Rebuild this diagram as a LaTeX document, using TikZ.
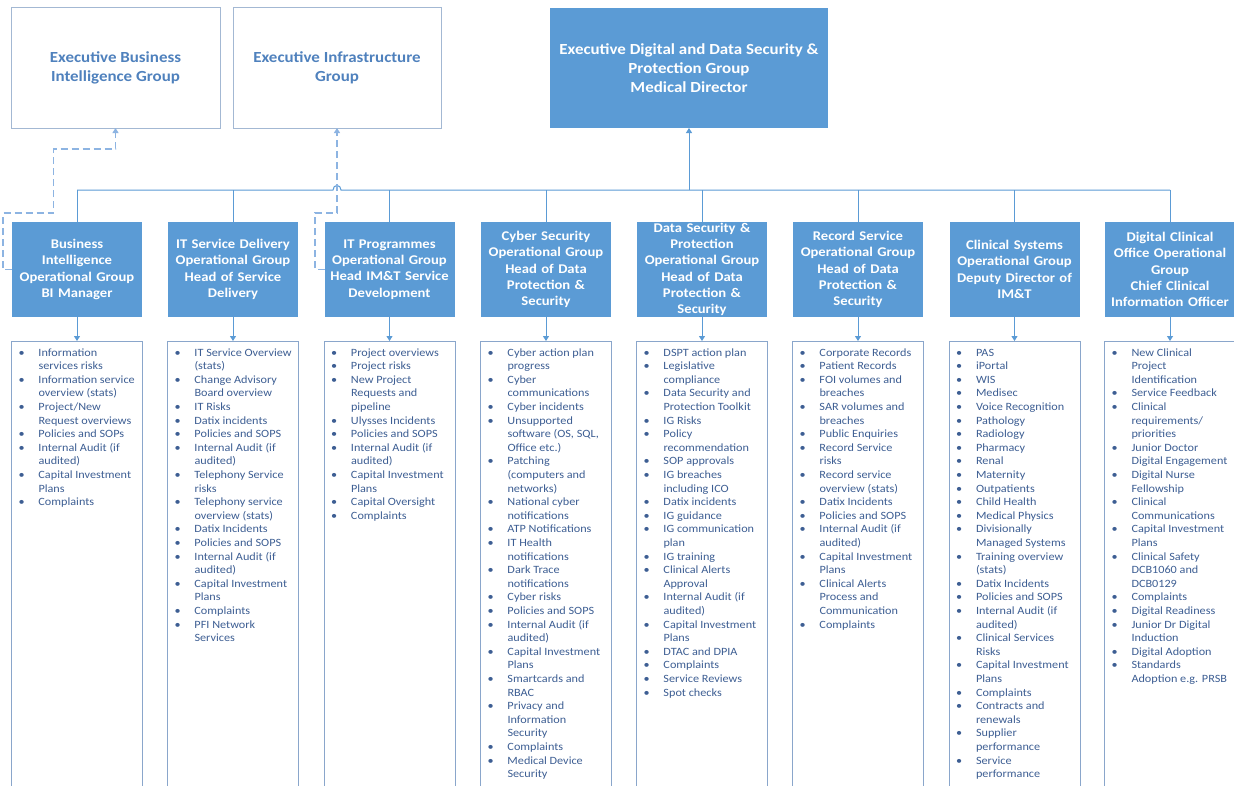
\documentclass[tikz,border=0pt]{standalone}
\usepackage{fontspec}
\setmainfont{Carlito}[FakeStretch=1.1]
\usetikzlibrary{arrows.meta,calc}
\definecolor{boxblue}{HTML}{5B9BD5}
\definecolor{linblue}{HTML}{5B9BD5}
\definecolor{dashblue}{HTML}{8DB4E2}
\definecolor{pale}{HTML}{A3B8D3}
\definecolor{exectext}{HTML}{4F81BD}
\definecolor{listtext}{HTML}{3D5E93}
\definecolor{listborder}{HTML}{8AA6CB}
\newcommand\B{\textbullet}
\tikzset{
  execw/.style={draw=pale, line width=0.9pt, fill=white, text=exectext, align=center,
    font=\fontsize{15.4}{19}\selectfont\bfseries},
  execf/.style={fill=boxblue, text=white, align=center,
    font=\fontsize{15.4}{19}\selectfont\bfseries},
  opbox/.style={fill=boxblue, text=white, align=center, text width=128pt,
    minimum width=130pt, minimum height=95pt,
    font=\fontsize{13.3}{16.3}\selectfont\bfseries},
  listbox/.style={draw=listborder, line width=0.8pt, minimum width=131pt,
    minimum height=450pt, anchor=north},
  listtxt/.style={text=listtext, anchor=north west, align=left,
    font=\fontsize{11.1}{13.6}\selectfont},
  conn/.style={draw=linblue, line width=1pt},
  tip/.style={-{Triangle[width=6pt,length=5pt]}},
  dashconn/.style={draw=dashblue, line width=1.1pt, dash pattern=on 7pt off 4pt,
    -{Triangle[width=6pt,length=5pt,fill=dashblue]}}
}
\begin{document}
\begin{tikzpicture}[x=1pt,y=-1pt, every node/.style={inner sep=0pt,outer sep=0pt}]
\useasboundingbox (0,0) rectangle (1234,785);
\fill[white] (0,0) rectangle (1234,785);
\begin{scope}
\clip (0,0) rectangle (1234,785);

% executive boxes
\node[execw, minimum width=209pt, minimum height=121pt] (ebi) at (115.5,67.5)
  {Executive Business\\Intelligence Group};
\node[execw, minimum width=208pt, minimum height=121pt] (einf) at (337,67.5)
  {Executive Infrastructure\\Group};
\node[execf, minimum width=278pt, minimum height=120pt] (edig) at (689,68)
  {Executive Digital and Data Security \&\\Protection Group\\Medical Director};

% operational boxes
\node[opbox] (o1) at (77,269.5) {Business\\Intelligence\\Operational Group\\BI Manager};
\node[opbox] (o2) at (233,269.5) {IT Service Delivery\\Operational Group\\Head of Service\\Delivery};
\node[opbox] (o3) at (389.5,269.5) {IT Programmes\\Operational Group\\Head IM\&T Service\\Development};
\node[opbox] (o4) at (546,269.5) {Cyber Security\\Operational Group\\Head of Data\\Protection \&\\Security};
\node[opbox] (o5) at (702,269.5) {Data Security \&\\Protection\\Operational Group\\Head of Data\\Protection \&\\Security};
\node[opbox] (o6) at (858,269.5) {Record Service\\Operational Group\\Head of Data\\Protection \&\\Security};
\node[opbox] (o7) at (1014.5,269.5) {Clinical Systems\\Operational Group\\Deputy Director of\\IM\&T};
\node[opbox] (o8) at (1170,269.5) {Digital Clinical\\Office Operational\\Group\\Chief Clinical\\Information Officer};

% list boxes
\node[listbox] (l1) at (77,341) {};
\node[listbox] (l2) at (233,341) {};
\node[listbox] (l3) at (389.5,341) {};
\node[listbox] (l4) at (546,341) {};
\node[listbox] (l5) at (702,341) {};
\node[listbox] (l6) at (858,341) {};
\node[listbox] (l7) at (1014.5,341) {};
\node[listbox] (l8) at (1170,341) {};

\node[listtxt] (t1) at ([xshift=7pt,yshift=-5.5pt]l1.north west) {\begin{tabular}{@{}p{20pt}@{}l@{}}
\B& Information\\ & services risks\\
\B& Information service\\ & overview (stats)\\
\B& Project/New\\ & Request overviews\\
\B& Policies and SOPs\\
\B& Internal Audit (if\\ & audited)\\
\B& Capital Investment\\ & Plans\\
\B& Complaints\\
\end{tabular}};

\node[listtxt] (t2) at ([xshift=7pt,yshift=-5.5pt]l2.north west) {\begin{tabular}{@{}p{20pt}@{}l@{}}
\B& IT Service Overview\\ & (stats)\\
\B& Change Advisory\\ & Board overview\\
\B& IT Risks\\
\B& Datix incidents\\
\B& Policies and SOPS\\
\B& Internal Audit (if\\ & audited)\\
\B& Telephony Service\\ & risks\\
\B& Telephony service\\ & overview (stats)\\
\B& Datix Incidents\\
\B& Policies and SOPS\\
\B& Internal Audit (if\\ & audited)\\
\B& Capital Investment\\ & Plans\\
\B& Complaints\\
\B& PFI Network\\ & Services\\
\end{tabular}};

\node[listtxt] (t3) at ([xshift=7pt,yshift=-5.5pt]l3.north west) {\begin{tabular}{@{}p{20pt}@{}l@{}}
\B& Project overviews\\
\B& Project risks\\
\B& New Project\\ & Requests and\\ & pipeline\\
\B& Ulysses Incidents\\
\B& Policies and SOPS\\
\B& Internal Audit (if\\ & audited)\\
\B& Capital Investment\\ & Plans\\
\B& Capital Oversight\\
\B& Complaints\\
\end{tabular}};

\node[listtxt] (t4) at ([xshift=7pt,yshift=-5.5pt]l4.north west) {\begin{tabular}{@{}p{20pt}@{}l@{}}
\B& Cyber action plan\\ & progress\\
\B& Cyber\\ & communications\\
\B& Cyber incidents\\
\B& Unsupported\\ & software (OS, SQL,\\ & Office etc.)\\
\B& Patching\\ & (computers and\\ & networks)\\
\B& National cyber\\ & notifications\\
\B& ATP Notifications\\
\B& IT Health\\ & notifications\\
\B& Dark Trace\\ & notifications\\
\B& Cyber risks\\
\B& Policies and SOPS\\
\B& Internal Audit (if\\ & audited)\\
\B& Capital Investment\\ & Plans\\
\B& Smartcards and\\ & RBAC\\
\B& Privacy and\\ & Information\\ & Security\\
\B& Complaints\\
\B& Medical Device\\ & Security\\
\end{tabular}};

\node[listtxt] (t5) at ([xshift=7pt,yshift=-5.5pt]l5.north west) {\begin{tabular}{@{}p{20pt}@{}l@{}}
\B& DSPT action plan\\
\B& Legislative\\ & compliance\\
\B& Data Security and\\ & Protection Toolkit\\
\B& IG Risks\\
\B& Policy\\ & recommendation\\
\B& SOP approvals\\
\B& IG breaches\\ & including ICO\\
\B& Datix incidents\\
\B& IG guidance\\
\B& IG communication\\ & plan\\
\B& IG training\\
\B& Clinical Alerts\\ & Approval\\
\B& Internal Audit (if\\ & audited)\\
\B& Capital Investment\\ & Plans\\
\B& DTAC and DPIA\\
\B& Complaints\\
\B& Service Reviews\\
\B& Spot checks\\
\end{tabular}};

\node[listtxt] (t6) at ([xshift=7pt,yshift=-5.5pt]l6.north west) {\begin{tabular}{@{}p{20pt}@{}l@{}}
\B& Corporate Records\\
\B& Patient Records\\
\B& FOI volumes and\\ & breaches\\
\B& SAR volumes and\\ & breaches\\
\B& Public Enquiries\\
\B& Record Service\\ & risks\\
\B& Record service\\ & overview (stats)\\
\B& Datix Incidents\\
\B& Policies and SOPS\\
\B& Internal Audit (if\\ & audited)\\
\B& Capital Investment\\ & Plans\\
\B& Clinical Alerts\\ & Process and\\ & Communication\\
\B& Complaints\\
\end{tabular}};

\node[listtxt] (t7) at ([xshift=7pt,yshift=-5.5pt]l7.north west) {\begin{tabular}{@{}p{20pt}@{}l@{}}
\B& PAS\\
\B& iPortal\\
\B& WIS\\
\B& Medisec\\
\B& Voice Recognition\\
\B& Pathology\\
\B& Radiology\\
\B& Pharmacy\\
\B& Renal\\
\B& Maternity\\
\B& Outpatients\\
\B& Child Health\\
\B& Medical Physics\\
\B& Divisionally\\ & Managed Systems\\
\B& Training overview\\ & (stats)\\
\B& Datix Incidents\\
\B& Policies and SOPS\\
\B& Internal Audit (if\\ & audited)\\
\B& Clinical Services\\ & Risks\\
\B& Capital Investment\\ & Plans\\
\B& Complaints\\
\B& Contracts and\\ & renewals\\
\B& Supplier\\ & performance\\
\B& Service\\ & performance\\
\end{tabular}};

\node[listtxt] (t8) at ([xshift=7pt,yshift=-5.5pt]l8.north west) {\begin{tabular}{@{}p{20pt}@{}l@{}}
\B& New Clinical\\ & Project\\ & Identification\\
\B& Service Feedback\\
\B& Clinical\\ & requirements/\\ & priorities\\
\B& Junior Doctor\\ & Digital Engagement\\
\B& Digital Nurse\\ & Fellowship\\
\B& Clinical\\ & Communications\\
\B& Capital Investment\\ & Plans\\
\B& Clinical Safety\\ & DCB1060 and\\ & DCB0129\\
\B& Complaints\\
\B& Digital Readiness\\
\B& Junior Dr Digital\\ & Induction\\
\B& Digital Adoption\\
\B& Standards\\ & Adoption e.g. PRSB\\
\end{tabular}};

% connectors
\coordinate (bus) at (0,190);
\foreach \i in {1,...,8} {
  \draw[conn] (o\i.north) -- (o\i.north |- bus);
  \draw[conn,tip] (o\i.south) -- (l\i.north);
}
\draw[conn] (o1.north |- bus) -- ($(einf.south |- bus)+(-4,0)$)
  .. controls +(0,-6) and +(0,-6) .. ($(einf.south |- bus)+(4,0)$) -- (o8.north |- bus);
\draw[conn,tip] (edig.south |- bus) -- (edig.south);

\draw[dashconn] (o1.west) -| (3,213) -| (53.5,149) -| (ebi.south);
\draw[dashconn] (o3.west) -| (315,213) -| (einf.south);
\end{scope}
\end{tikzpicture}
\end{document}
